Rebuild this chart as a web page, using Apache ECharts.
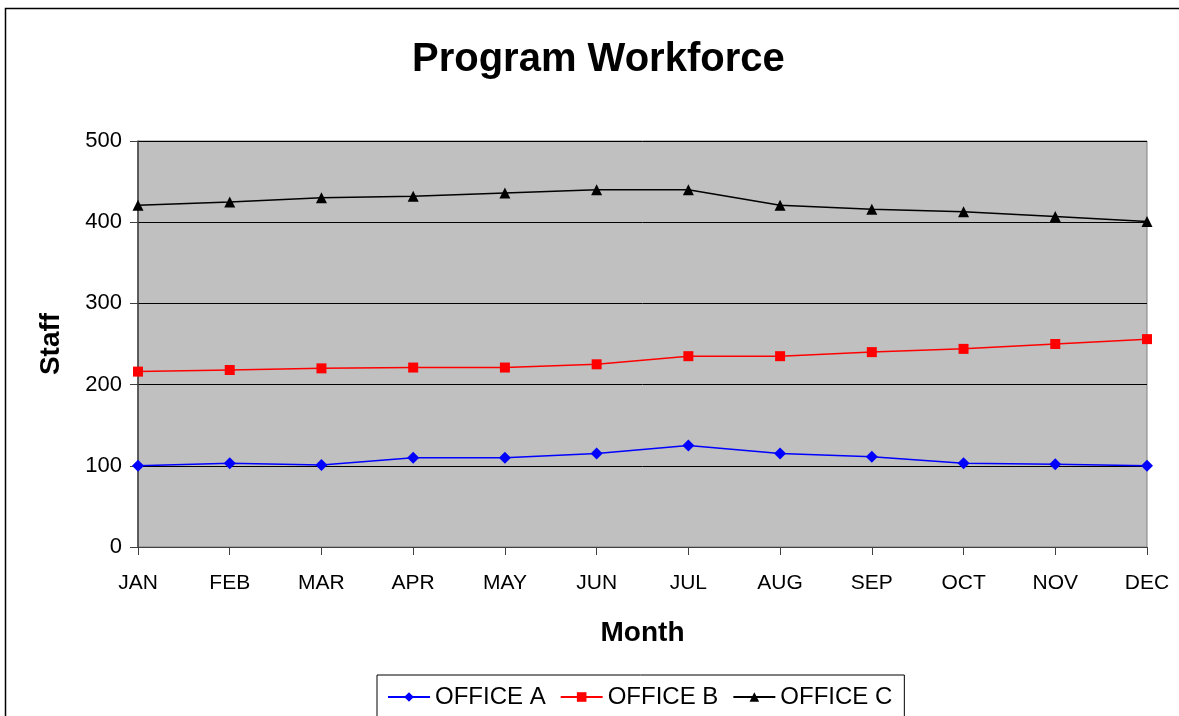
<!DOCTYPE html>
<html>
<head>
<meta charset="utf-8">
<script src="https://cdn.jsdelivr.net/npm/echarts@6/dist/echarts.min.js"></script>
<style>
  html, body { margin: 0; padding: 0; background: #fff; }
  #chart { width: 1179px; height: 716px; }
</style>
</head>
<body>
<div id="chart"></div>
<script>
  // data
  var months = ['JAN', 'FEB', 'MAR', 'APR', 'MAY', 'JUN', 'JUL', 'AUG', 'SEP', 'OCT', 'NOV', 'DEC']
  var officeA = [100, 103, 101, 110, 110, 115, 125, 115, 111, 103, 102, 100]
  var officeB = [216, 218, 220, 221, 221, 225, 235, 235, 240, 244, 250, 256]
  var officeC = [421, 425, 430, 432, 436, 440, 440, 421, 416, 413, 407, 401]
  var yTicks = [0, 100, 200, 300, 400, 500]

  var font = 'Liberation Sans, Arial, sans-serif'
  var chart = echarts.init(document.getElementById('chart'))

  chart.setOption({
    animation: false,
    backgroundColor: '#fff',
    textStyle: { fontFamily: font },
    graphic: [
      { // outer chart frame, runs off right/bottom
        type: 'rect',
        shape: { x: 5.5, y: 8.5, width: 1300, height: 900 },
        style: { fill: 'none', stroke: '#000', lineWidth: 1.5 },
        silent: true, z: -10
      }
    ],
    title: {
      text: 'Program Workforce',
      left: 412,
      top: 40,
      padding: 0,
      textStyle: { fontSize: 40, fontWeight: 'bold', color: '#000', fontFamily: font }
    },
    legend: {
      left: 377,
      top: 675,
      padding: [10, 12, 30, 10],
      borderColor: '#000',
      borderWidth: 1,
      itemWidth: 42,
      itemHeight: 12,
      itemGap: 14,
      textStyle: { fontSize: 24, color: '#000', fontFamily: font },
      data: ['OFFICE A', 'OFFICE B', 'OFFICE C']
    },
    grid: {
      left: 138, right: 32, top: 141, bottom: 169,
      show: true,
      backgroundColor: '#C0C0C0',
      borderColor: '#808080',
      borderWidth: 1
    },
    xAxis: {
      type: 'category',
      data: months,
      boundaryGap: false,
      name: 'Month',
      nameLocation: 'middle',
      nameGap: 72,
      nameTextStyle: { fontSize: 28, fontWeight: 'bold', color: '#000', fontFamily: font },
      axisLine: { lineStyle: { color: '#404040', width: 1 } },
      axisTick: { show: true, alignWithLabel: true, length: 8, lineStyle: { color: '#404040' } },
      axisLabel: { fontSize: 21, color: '#000', margin: 26, fontFamily: font },
      splitLine: { show: false }
    },
    yAxis: {
      type: 'value',
      min: yTicks[0],
      max: yTicks[yTicks.length - 1],
      interval: yTicks[1] - yTicks[0],
      name: 'Staff',
      nameLocation: 'middle',
      nameGap: 73,
      nameRotate: 90,
      nameTextStyle: { fontSize: 28, fontWeight: 'bold', color: '#000', fontFamily: font },
      axisLine: { show: true, lineStyle: { color: '#404040', width: 1.5 } },
      axisTick: { show: true, length: 8, lineStyle: { color: '#404040' } },
      axisLabel: { fontSize: 22, color: '#000', margin: 16, fontFamily: font },
      splitLine: { show: true, lineStyle: { color: '#000', width: 1 } }
    },
    series: [
      {
        name: 'OFFICE A', type: 'line', data: officeA,
        symbol: 'diamond', symbolSize: 12,
        lineStyle: { color: '#0000FF', width: 1.5 },
        itemStyle: { color: '#0000FF' }
      },
      {
        name: 'OFFICE B', type: 'line', data: officeB,
        symbol: 'rect', symbolSize: 10,
        lineStyle: { color: '#FF0000', width: 1.5 },
        itemStyle: { color: '#FF0000' }
      },
      {
        name: 'OFFICE C', type: 'line', data: officeC,
        symbol: 'triangle', symbolSize: 11,
        lineStyle: { color: '#000000', width: 1.5 },
        itemStyle: { color: '#000000' }
      }
    ]
  })
</script>
</body>
</html>
